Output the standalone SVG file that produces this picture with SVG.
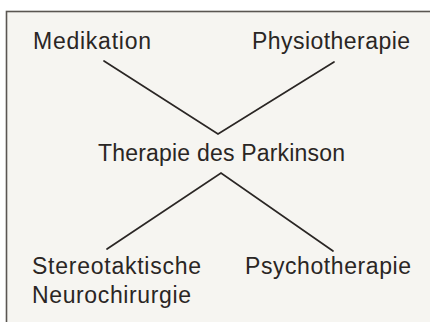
<svg xmlns="http://www.w3.org/2000/svg" width="430" height="322" viewBox="0 0 430 322">
  <style>
    .lbl { font-family: "Liberation Sans", Arial, Helvetica, sans-serif; font-size: 23px; fill: #2a2624; }
    .edge { stroke: #2a2624; stroke-width: 1.7; fill: none; stroke-linecap: round; stroke-linejoin: miter; }
  </style>
  <rect x="0" y="0" width="430" height="322" fill="#ffffff"/>
  <rect id="frame" x="6.5" y="11.5" width="440" height="330" fill="#f6f5f1" stroke="#5a5652" stroke-width="1.6"/>

  <g id="connectors">
    <polyline class="edge" points="104,61 218,134 334,62"/>
    <polyline class="edge" points="107,249 221,173 333,251"/>
  </g>

  <g id="node-medikation">
    <text class="lbl" x="33" y="49" textLength="118" lengthAdjust="spacing">Medikation</text>
  </g>
  <g id="node-physiotherapie">
    <text class="lbl" x="252" y="49" textLength="158" lengthAdjust="spacing">Physiotherapie</text>
  </g>
  <g id="node-therapie">
    <text class="lbl" x="98" y="161" textLength="247" lengthAdjust="spacing">Therapie des Parkinson</text>
  </g>
  <g id="node-neurochirurgie">
    <text class="lbl" x="32" y="274" textLength="169" lengthAdjust="spacing">Stereotaktische</text>
    <text class="lbl" x="32" y="303" textLength="159" lengthAdjust="spacing">Neurochirurgie</text>
  </g>
  <g id="node-psychotherapie">
    <text class="lbl" x="245" y="274" textLength="166" lengthAdjust="spacing">Psychotherapie</text>
  </g>
</svg>
